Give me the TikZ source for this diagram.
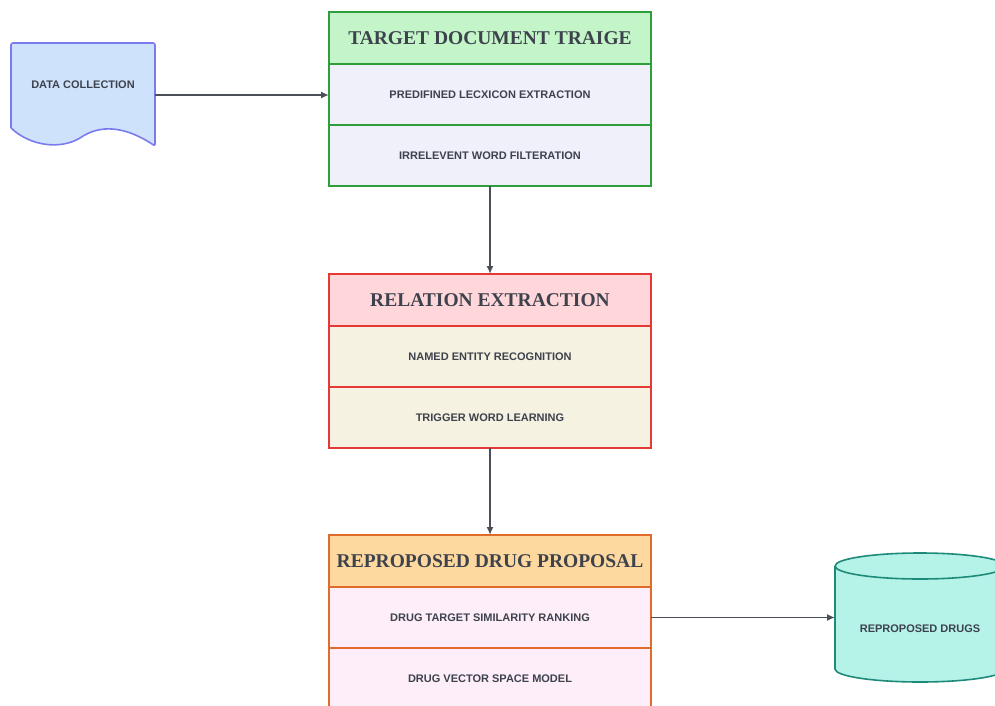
\documentclass[tikz,border=0pt]{standalone}
\usepackage{fontspec}
\setmainfont{Liberation Serif}
\setsansfont{Liberation Sans}
\usetikzlibrary{positioning,arrows.meta}

\definecolor{txtgray}{HTML}{3D424D}
\definecolor{arrowgray}{HTML}{4A4F58}
\definecolor{greenline}{HTML}{2E9E3A}
\definecolor{greenhead}{HTML}{C3F5C8}
\definecolor{greenrow}{HTML}{F0F0FB}
\definecolor{redline}{HTML}{E53935}
\definecolor{redhead}{HTML}{FFD6D9}
\definecolor{redrow}{HTML}{F6F2E2}
\definecolor{orangeline}{HTML}{E06B2A}
\definecolor{orangehead}{HTML}{FDD9A0}
\definecolor{orangerow}{HTML}{FDEEFA}
\definecolor{docfill}{HTML}{CFE2FC}
\definecolor{docline}{HTML}{7B7BF0}
\definecolor{dbfill}{HTML}{B5F2E8}
\definecolor{dbline}{HTML}{1E8A7A}

\begin{document}
\begin{tikzpicture}[x=1pt, y=-1pt,
    every node/.style={font=\sffamily\bfseries\fontsize{11}{13}\selectfont, text=txtgray},
    head/.style={draw, line width=1.6pt, minimum width=322pt, minimum height=52pt,
        inner sep=0pt, outer sep=0pt, font=\bfseries\fontsize{19.5}{23}\selectfont, text=txtgray},
    row/.style={draw, line width=1.6pt, minimum width=322pt, minimum height=61pt,
        inner sep=0pt, outer sep=0pt},
    flow/.style={line width=1.8pt, draw=arrowgray, -{Latex[length=8pt,width=7pt]}}]
    \useasboundingbox (0,0) rectangle (995,706);

    % Documento de entrada (forma de documento)
    \draw[line width=1.6pt, draw=docline, fill=docfill, rounded corners=2pt]
        (11,128) -- (11,43) -- (155,43) -- (155,146)
        [sharp corners] .. controls (125,126) and (100,124) .. (80,138)
        .. controls (60,150) and (30,146) .. (11,128);
    \node (datacol) at (83,85) {DATA COLLECTION};
    \coordinate (datacolout) at (155,95);

    % Bloque 1: triage de documentos
    \node[head, draw=greenline, fill=greenhead, anchor=north] (tdt) at (490,12) {TARGET DOCUMENT TRAIGE};
    \node[row, draw=greenline, fill=greenrow, below=0pt of tdt] (tdt1) {PREDIFINED LECXICON EXTRACTION};
    \node[row, draw=greenline, fill=greenrow, below=0pt of tdt1] (tdt2) {IRRELEVENT WORD FILTERATION};

    % Bloque 2: extraccion de relaciones
    \node[head, draw=redline, fill=redhead, anchor=north] (rel) at (490,274) {RELATION EXTRACTION};
    \node[row, draw=redline, fill=redrow, below=0pt of rel] (rel1) {NAMED ENTITY RECOGNITION};
    \node[row, draw=redline, fill=redrow, below=0pt of rel1] (rel2) {TRIGGER WORD LEARNING};

    % Bloque 3: propuesta de farmacos
    \node[head, draw=orangeline, fill=orangehead, anchor=north] (rdp) at (490,535) {REPROPOSED DRUG PROPOSAL};
    \node[row, draw=orangeline, fill=orangerow, below=0pt of rdp] (rdp1) {DRUG TARGET SIMILARITY RANKING};
    \node[row, draw=orangeline, fill=orangerow, below=0pt of rdp1] (rdp2) {DRUG VECTOR SPACE MODEL};

    % Base de datos de salida (cilindro)
    \draw[line width=1.6pt, draw=dbline, fill=dbfill]
        (835,566) -- (835,669) arc[start angle=180, end angle=0, x radius=85, y radius=13]
        -- (1005,566) arc[start angle=0, end angle=-180, x radius=85, y radius=13];
    \draw[line width=1.6pt, draw=dbline]
        (835,566) arc[start angle=180, end angle=0, x radius=85, y radius=13];
    \node (repdrugs) at (920,629) {REPROPOSED DRUGS};
    \coordinate (repdrugsin) at (835,617);

    % Conectores
    \draw[flow] (datacolout) -- (datacolout -| tdt1.west);
    \draw[flow] (tdt2.south) -- (rel.north);
    \draw[flow] (rel2.south) -- (rdp.north);
    \draw[flow] (rdp1.east) -- (rdp1.east -| repdrugsin);
\end{tikzpicture}
\end{document}
